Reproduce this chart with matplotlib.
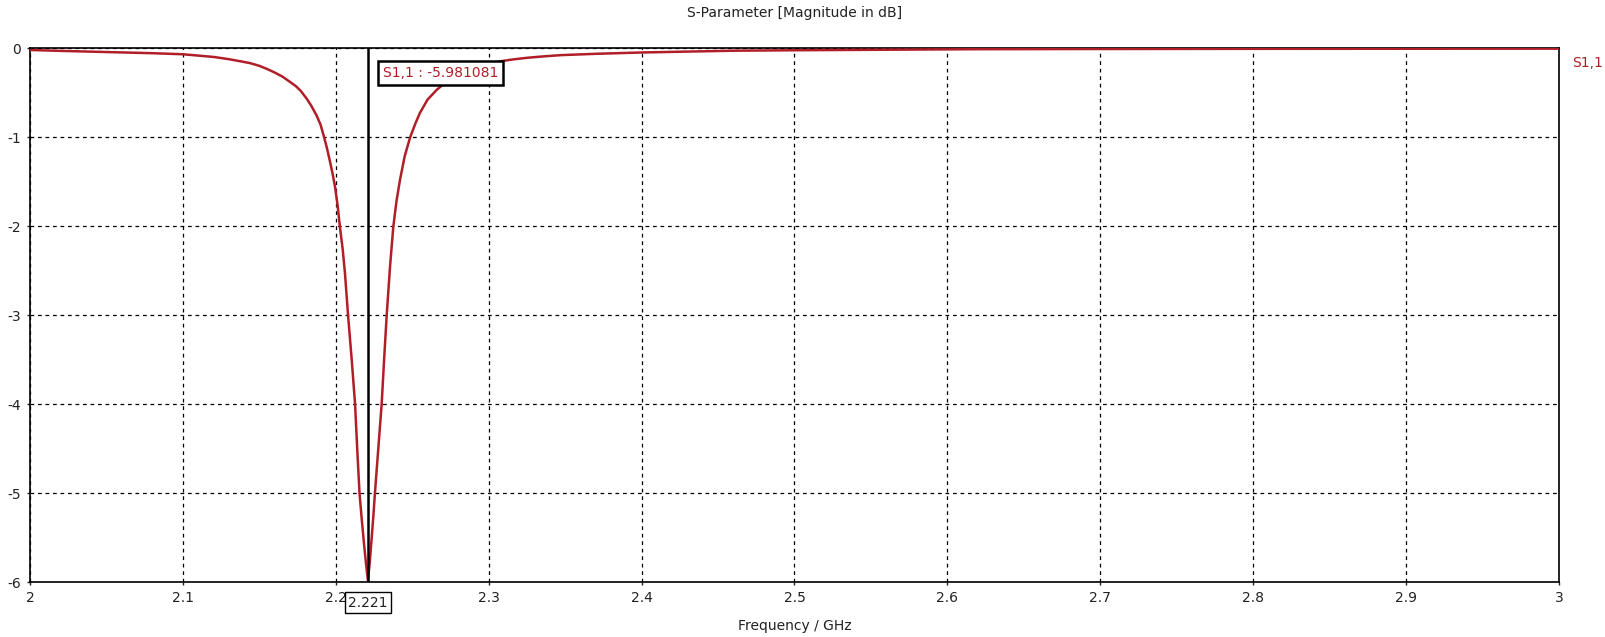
import matplotlib.pyplot as plt

# values
freq = [2.0, 2.02, 2.05, 2.08, 2.1, 2.12, 2.13, 2.138, 2.144, 2.15, 2.155,
        2.16, 2.165, 2.17, 2.174, 2.177, 2.181, 2.184, 2.1875, 2.19, 2.192,
        2.194, 2.196, 2.198, 2.1995, 2.2012, 2.2027, 2.2045, 2.206, 2.208,
        2.2104, 2.2126, 2.214, 2.2155, 2.217, 2.2185, 2.2198, 2.221, 2.2222,
        2.2235, 2.2246, 2.2256, 2.2278, 2.230, 2.2316, 2.2333, 2.2355, 2.2376,
        2.2397, 2.242, 2.245, 2.2485, 2.252, 2.255, 2.26, 2.266, 2.273, 2.28,
        2.287, 2.295, 2.306, 2.315, 2.325, 2.335, 2.347, 2.37, 2.4, 2.43,
        2.46, 2.5, 2.55, 2.62, 2.7, 2.8, 2.9, 3.0]
s11 = [-0.022, -0.032, -0.045, -0.058, -0.07, -0.1, -0.125, -0.15, -0.17,
       -0.2, -0.235, -0.275, -0.32, -0.38, -0.43, -0.48, -0.57, -0.65,
       -0.76, -0.86, -0.98, -1.11, -1.26, -1.42, -1.56, -1.77, -2.01, -2.26,
       -2.53, -3.0, -3.5, -4.0, -4.5, -5.0, -5.3, -5.58, -5.8, -5.981081,
       -5.78, -5.5, -5.25, -5.0, -4.5, -4.0, -3.5, -3.0, -2.45, -2.01, -1.72,
       -1.48, -1.22, -1.01, -0.85, -0.73, -0.58, -0.47, -0.37, -0.3, -0.245,
       -0.2, -0.154, -0.13, -0.11, -0.095, -0.08, -0.065, -0.05, -0.04,
       -0.03, -0.025, -0.02, -0.013, -0.011, -0.009, -0.008, -0.007]

xticks = [2, 2.1, 2.2, 2.3, 2.4, 2.5, 2.6, 2.7, 2.8, 2.9, 3]
xticklabels = ["2", "2.1", "2.2", "2.3", "2.4", "2.5", "2.6", "2.7", "2.8", "2.9", "3"]
yticks = [0, -1, -2, -3, -4, -5, -6]

marker_f = 2.221
marker_val = -5.981081
red = "#b01e28"

plt.rcParams['font.family'] = ['DejaVu Sans']
plt.rcParams['axes.unicode_minus'] = False

fig = plt.figure(figsize=(16.05, 6.37), dpi=100)
ax = fig.add_axes([0.0187, 0.0863, 0.9526, 0.8383])

ax.plot(freq, s11, color=red, lw=1.8, zorder=3, solid_joinstyle="round")
ax.axvline(marker_f, color="black", lw=1.8, zorder=4)

ax.set_xlim(2, 3)
ax.set_ylim(-6, 0)
ax.set_xticks(xticks)
ax.set_xticklabels(xticklabels)
ax.set_yticks(yticks)
ax.tick_params(labelsize=10, length=2.5, width=1, pad=4, colors="#222222")
ax.grid(True, color="black", ls=(0, (3, 3)), lw=0.9)
for sp in ax.spines.values():
    sp.set_color("black")
    sp.set_linewidth(1.2)

ax.set_title("S-Parameter [Magnitude in dB]", fontsize=10, pad=22, color="#222222")
ax.set_xlabel("Frequency / GHz", fontsize=10, labelpad=10, color="#222222")

# marker readout box
ax.text(marker_f + 0.0099, -0.28, f"S1,1 : {marker_val:.6f}", color=red,
        fontsize=10, ha="left", va="center", zorder=6,
        bbox=dict(boxstyle="square,pad=0.35", fc="white", ec="black", lw=1.8))

# marker frequency box on the x axis
ax.annotate(f"{marker_f:.3f}", xy=(marker_f, 0), xycoords=("data", "axes fraction"),
            xytext=(0, -15), textcoords="offset points", ha="center", va="center",
            fontsize=10, color="#222222", zorder=6, annotation_clip=False,
            bbox=dict(boxstyle="square,pad=0.25", fc="white", ec="black", lw=1))

# curve name on the right
ax.text(1.0085, 0.972, "S1,1", transform=ax.transAxes, color=red,
        fontsize=10, ha="left", va="center")

fig.savefig("out.png", dpi=100)
plt.close(fig)
